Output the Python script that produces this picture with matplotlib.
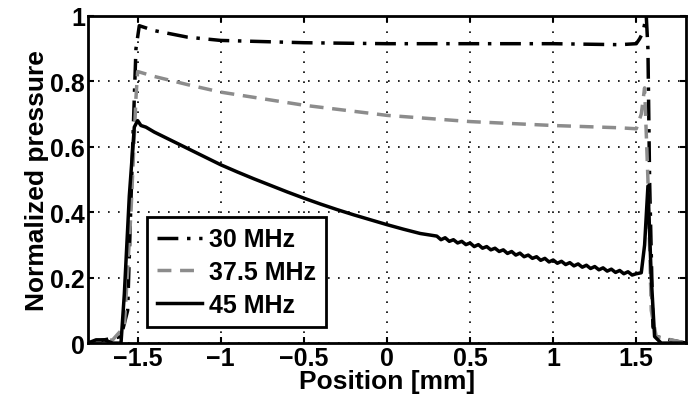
import matplotlib
matplotlib.use('Agg')
import matplotlib.pyplot as plt

plt.rcParams['font.family'] = ['Liberation Sans', 'DejaVu Sans']
plt.rcParams['font.weight'] = 'bold'

# 30 MHz (dash-dot, black)
x30 = [-1.8, -1.7, -1.6, -1.56, -1.53, -1.51, -1.49, -1.4, -1.2, -1.0, -0.5, 0.0,
       0.5, 1.0, 1.4, 1.5, 1.52, 1.54, 1.56, 1.57, 1.58, 1.6, 1.62, 1.7, 1.8]
p30 = [0.0, 0.01, 0.02, 0.1, 0.6, 0.9, 0.97, 0.955, 0.935, 0.925, 0.918, 0.915,
       0.915, 0.915, 0.912, 0.915, 0.93, 0.95, 1.0, 0.9, 0.5, 0.05, 0.02, 0.01, 0.0]

# 37.5 MHz (dashed, grey)
x375 = [-1.8, -1.65, -1.58, -1.54, -1.51, -1.5, -1.4, -1.2, -1.0, -0.5, 0.0, 0.5,
        1.0, 1.4, 1.5, 1.53, 1.55, 1.57, 1.59, 1.62, 1.8]
p375 = [0.0, 0.01, 0.05, 0.4, 0.75, 0.83, 0.815, 0.79, 0.767, 0.727, 0.696, 0.677,
        0.665, 0.658, 0.655, 0.7, 0.78, 0.5, 0.1, 0.02, 0.0]

# 45 MHz (solid, black)
x45 = [-1.8, -1.75, -1.7, -1.65, -1.62, -1.6, -1.58, -1.55, -1.52, -1.5, -1.48, -1.45,
       -1.4, -1.3, -1.2, -1.1, -1.0, -0.9, -0.8, -0.7, -0.6, -0.5, -0.4, -0.3, -0.2,
       -0.1, 0.0, 0.1, 0.2,
       0.3, 0.325, 0.35, 0.375, 0.4, 0.425, 0.45, 0.475, 0.5, 0.525, 0.55, 0.575,
       0.6, 0.625, 0.65, 0.675, 0.7, 0.725, 0.75, 0.775, 0.8, 0.825, 0.85, 0.875,
       0.9, 0.925, 0.95, 0.975, 1.0, 1.025, 1.05, 1.075, 1.1, 1.125, 1.15, 1.175,
       1.2, 1.225, 1.25, 1.275, 1.3, 1.325, 1.35, 1.375, 1.4, 1.425, 1.45, 1.475,
       1.5, 1.53, 1.55, 1.57, 1.59, 1.61, 1.65, 1.7, 1.8]
p45 = [0.0, 0.01, 0.01, 0.0, 0.0, 0.0, 0.15, 0.45, 0.66, 0.68, 0.665, 0.66,
       0.645, 0.62, 0.595, 0.57, 0.545, 0.523, 0.502, 0.482, 0.462, 0.443, 0.425, 0.408, 0.392,
       0.377, 0.362, 0.348, 0.335,
       0.327, 0.316, 0.322, 0.311, 0.316, 0.306, 0.311, 0.301, 0.306, 0.295, 0.301, 0.290,
       0.295, 0.285, 0.290, 0.280, 0.285, 0.274, 0.280, 0.269, 0.275, 0.264, 0.269, 0.259,
       0.264, 0.253, 0.259, 0.248, 0.254, 0.244, 0.250, 0.240, 0.246, 0.236, 0.242, 0.232,
       0.238, 0.228, 0.234, 0.224, 0.230, 0.220, 0.226, 0.216, 0.222, 0.212, 0.218, 0.208,
       0.212, 0.215, 0.3, 0.48, 0.2, 0.02, 0.0, 0.0, 0.0]

fig = plt.figure(figsize=(6.91, 4.02), dpi=100)
ax = fig.add_axes([0.127, 0.144, 0.866, 0.814])

ax.plot(x30, p30, color='black', lw=2.5, linestyle=(0, (6, 2.5, 1, 2.5)), label='30 MHz')
ax.plot(x375, p375, color='#8c8c8c', lw=2.5, linestyle=(0, (4, 2.5)), label='37.5 MHz')
ax.plot(x45, p45, color='black', lw=2.5, label='45 MHz')

ax.set_xlim(-1.8, 1.8)
ax.set_ylim(0, 1)
ax.set_xticks([-1.5, -1, -0.5, 0, 0.5, 1, 1.5])
ax.set_xticklabels(['\u22121.5', '\u22121', '\u22120.5', '0', '0.5', '1', '1.5'])
ax.set_yticks([0, 0.2, 0.4, 0.6, 0.8, 1])
ax.set_yticklabels(['0', '0.2', '0.4', '0.6', '0.8', '1'])
ax.tick_params(direction='in', top=True, right=True, labelsize=18, width=1.5, length=4, pad=2)
ax.grid(True, linestyle=(0, (1, 5)), color='black', lw=1.2)
for s in ax.spines.values():
    s.set_linewidth(2)

ax.set_xlabel('Position [mm]', fontsize=19, fontweight='bold', labelpad=-1)
ax.set_ylabel('Normalized pressure', fontsize=19, fontweight='bold', labelpad=1)

leg = ax.legend(loc='lower left', bbox_to_anchor=(0.099, 0.05), fontsize=18,
                fancybox=False, edgecolor='black', framealpha=1, handlelength=1.8,
                handletextpad=0.3, borderaxespad=0, labelspacing=0.35, borderpad=0.4)
leg.get_frame().set_linewidth(2)

plt.savefig('out.png', dpi=100)
